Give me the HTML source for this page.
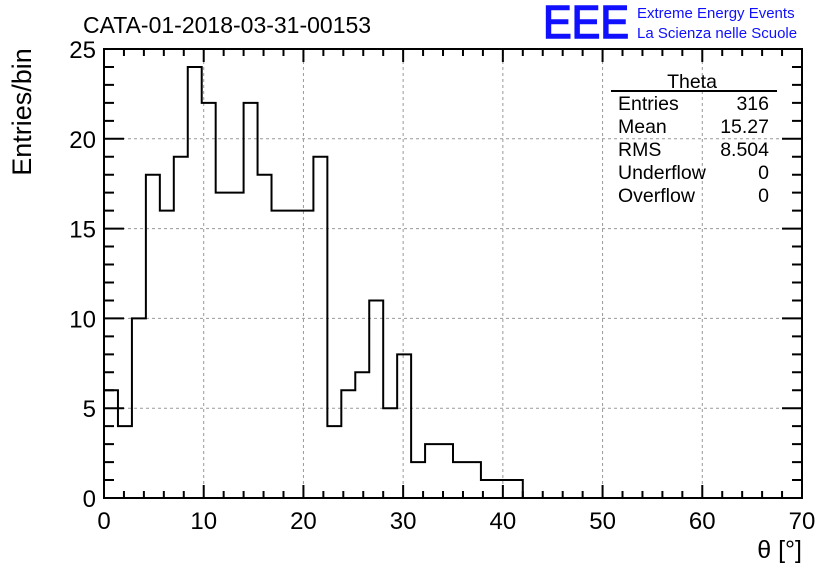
<!DOCTYPE html>
<html><head><meta charset="utf-8"><style>
body{margin:0;background:#fff;}
svg{display:block;font-family:"Liberation Sans",sans-serif;}
</style></head><body>
<svg id="c" width="836" height="572" xmlns="http://www.w3.org/2000/svg">
<rect width="836" height="572" fill="#fff"/>
<text x="83" y="33" font-size="23">CATA-01-2018-03-31-00153</text>
<text x="543" y="38" font-size="46" fill="#1010ff" stroke="#1010ff" stroke-width="1.5" textLength="86" lengthAdjust="spacingAndGlyphs">EEE</text>
<text x="637" y="18" font-size="15" fill="#1010ff">Extreme Energy Events</text>
<text x="637" y="38" font-size="15" fill="#1010ff">La Scienza nelle Scuole</text>
<g id="grid"></g>
<g id="axes"></g>
<path id="hist" fill="none" stroke="#000" stroke-width="2"/>
<text x="31" y="112" font-size="27" text-anchor="middle" transform="rotate(-90 31 112)">Entries/bin</text>
<text x="802" y="558" font-size="25" text-anchor="end">θ [°]</text>
<g font-size="19.5">
<text x="692" y="88" text-anchor="middle">Theta</text>
<line x1="611" y1="91" x2="777" y2="91" stroke="#000" stroke-width="2"/>
<text x="618" y="110">Entries</text><text x="769" y="110" text-anchor="end">316</text>
<text x="618" y="133">Mean</text><text x="769" y="133" text-anchor="end">15.27</text>
<text x="618" y="156">RMS</text><text x="769" y="156" text-anchor="end">8.504</text>
<text x="618" y="179">Underflow</text><text x="769" y="179" text-anchor="end">0</text>
<text x="618" y="202">Overflow</text><text x="769" y="202" text-anchor="end">0</text>
</g>
</svg>
<script>
const binCounts=[6,4,10,18,16,19,24,22,17,17,22,18,16,16,16,19,4,6,7,11,5,8,2,3,3,2,2,1,1,1,0,0,0,0,0,0,0,0,0,0,0,0,0,0,0,0,0,0,0,0];
const xTickLabels=[0,10,20,30,40,50,60,70];
const yTickLabels=[0,5,10,15,20,25];
const xMin=0,xMax=70,yMin=0,yMax=25;
const L=104,R=802,T=49,B=498;
const sx=v=>L+(v-xMin)/(xMax-xMin)*(R-L);
const sy=v=>B-(v-yMin)/(yMax-yMin)*(B-T);
const NS="http://www.w3.org/2000/svg";
const grid=document.getElementById('grid'),axes=document.getElementById('axes');
function mk(tag,attrs,parent){const e=document.createElementNS(NS,tag);for(const k in attrs)e.setAttribute(k,attrs[k]);parent.appendChild(e);return e;}
xTickLabels.forEach(v=>{
  if(v>xMin&&v<xMax){const g=mk('line',{x1:sx(v),x2:sx(v),y1:T,y2:B,stroke:'#999','stroke-dasharray':'3,3'},grid);
  
  }
  const t=mk('text',{x:sx(v),y:B+31,'font-size':24,'text-anchor':'middle'},axes);t.textContent=v;
  
  
});
yTickLabels.forEach(v=>{
  if(v>yMin&&v<yMax){const g=mk('line',{x1:L,x2:R,y1:sy(v),y2:sy(v),stroke:'#999','stroke-dasharray':'3,3'},grid);
  
  }
  const t=mk('text',{x:L-8,y:sy(v)+9,'font-size':24,'text-anchor':'end'},axes);t.textContent=v;
  
  
});
let d='';
for(let v=xMin;v<=xMax;v+=2){const maj=v%10===0;const len=maj?13:7;
  d+=`M${sx(v)} ${B}v${-len}M${sx(v)} ${T}v${len}`;}
for(let v=yMin;v<=yMax;v+=1){const maj=v%5===0;const len=maj?20:10;
  d+=`M${L} ${sy(v)}h${len}M${R} ${sy(v)}h${-len}`;}
const tk=mk('path',{d:d,stroke:'#000','stroke-width':2,fill:'none'},axes);


const fr=mk('rect',{x:L,y:T,width:R-L,height:B-T,fill:'none',stroke:'#000','stroke-width':2},axes);


const bw=(xMax-xMin)/binCounts.length;
let h=`M${sx(0)} ${sy(0)}`;
binCounts.forEach((c,i)=>{h+=`L${sx(i*bw)} ${sy(c)}L${sx((i+1)*bw)} ${sy(c)}`;});
h+=`L${sx(xMax)} ${sy(0)}`;
document.getElementById('hist').setAttribute('d',h);
</script>
</body></html>
